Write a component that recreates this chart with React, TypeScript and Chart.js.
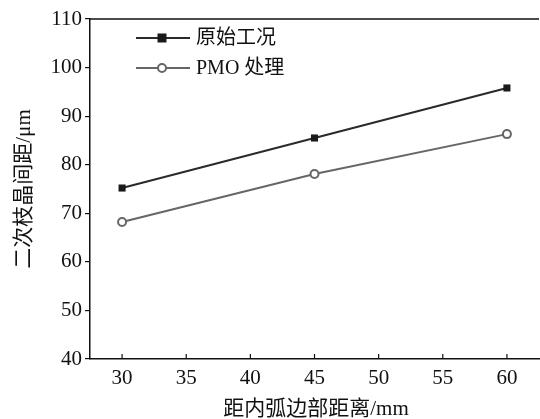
import React, { useEffect, useRef } from "react";
import { Chart, registerables } from "chart.js";

Chart.register(...registerables);

const distances = [30, 45, 60];
const original = [75.2, 85.5, 95.8];
const pmo = [68.2, 78.1, 86.3];
const xTicks = [30, 35, 40, 45, 50, 55, 60];
const seriesNames = ["原始工况", "PMO 处理"];
const xTitle = "距内弧边部距离/mm";
const yTitle = "二次枝晶间距/μm";

const FONT = "'Liberation Serif', 'Times New Roman', 'Noto Sans CJK SC', serif";

export default function App() {
  const ref = useRef<HTMLCanvasElement | null>(null);

  useEffect(() => {
    const canvas = ref.current;
    if (!canvas) return;

    const decor = {
      id: "decor",
      afterDraw(chart: any) {
        const ctx = chart.ctx;
        const a = chart.chartArea;
        const xs = chart.scales.x;
        ctx.save();
        // top border
        ctx.strokeStyle = "#111";
        ctx.lineWidth = 1.5;
        ctx.beginPath();
        ctx.moveTo(a.left, a.top);
        ctx.lineTo(a.right, a.top);
        ctx.stroke();
        // inward x ticks
        ctx.lineWidth = 1.2;
        xTicks.forEach((v) => {
          const px = xs.getPixelForValue(v);
          ctx.beginPath();
          ctx.moveTo(px, a.bottom);
          ctx.lineTo(px, a.bottom - 5);
          ctx.stroke();
        });
        // legend
        const rows = [
          { y: 38, color: "#2a2a2a", square: true },
          { y: 68, color: "#666", square: false },
        ];
        rows.forEach((r, i) => {
          ctx.strokeStyle = r.color;
          ctx.lineWidth = 2;
          ctx.beginPath();
          ctx.moveTo(136, r.y);
          ctx.lineTo(190, r.y);
          ctx.stroke();
          if (r.square) {
            ctx.fillStyle = "#1a1a1a";
            ctx.fillRect(162 - 4.5, r.y - 4.5, 9, 9);
          } else {
            ctx.fillStyle = "#fff";
            ctx.beginPath();
            ctx.arc(162, r.y, 4, 0, Math.PI * 2);
            ctx.fill();
            ctx.lineWidth = 2;
            ctx.stroke();
          }
          ctx.fillStyle = "#111";
          ctx.font = `20px ${FONT}`;
          ctx.textAlign = "left";
          ctx.textBaseline = "middle";
          ctx.fillText(seriesNames[i], 196, r.y + 1);
        });
        // axis titles
        ctx.fillStyle = "#111";
        ctx.font = `21px ${FONT}`;
        ctx.textAlign = "center";
        ctx.textBaseline = "middle";
        ctx.fillText(xTitle, 316, 409);
        ctx.save();
        ctx.translate(24, 189);
        ctx.rotate(-Math.PI / 2);
        ctx.fillText(yTitle, 0, 0);
        ctx.restore();
        ctx.restore();
      },
    };

    const chart = new Chart(canvas, {
      type: "line",
      data: {
        datasets: [
          {
            label: seriesNames[0],
            data: distances.map((x, i) => ({ x, y: original[i] })),
            borderColor: "#2a2a2a",
            borderWidth: 2,
            pointStyle: "rect",
            pointRadius: 5,
            pointBackgroundColor: "#1a1a1a",
            pointBorderColor: "#1a1a1a",
            pointBorderWidth: 0,
          },
          {
            label: seriesNames[1],
            data: distances.map((x, i) => ({ x, y: pmo[i] })),
            borderColor: "#666",
            borderWidth: 2,
            pointStyle: "circle",
            pointRadius: 4,
            pointBackgroundColor: "#fff",
            pointBorderColor: "#666",
            pointBorderWidth: 2,
          },
        ],
      },
      options: {
        animation: false,
        responsive: false,
        layout: { padding: { left: 0, top: 19, right: 0, bottom: 0 } },
        plugins: { legend: { display: false }, tooltip: { enabled: false } },
        scales: {
          x: {
            type: "linear",
            min: 27.5,
            max: 62.5,
            afterFit: (s: any) => {
              s.height = 60;
            },
            afterBuildTicks: (s: any) => {
              s.ticks = xTicks.map((v) => ({ value: v }));
            },
            ticks: {
              color: "#111",
              font: { family: FONT, size: 21 },
              padding: 7,
              maxRotation: 0,
              autoSkip: false,
            },
            grid: { display: true, drawOnChartArea: false, drawTicks: false },
            border: { display: true, color: "#111", width: 1.5 },
          },
          y: {
            type: "linear",
            min: 40,
            max: 110,
            afterFit: (s: any) => {
              s.width = 90;
            },
            ticks: {
              stepSize: 10,
              color: "#111",
              font: { family: FONT, size: 21 },
              padding: 3,
            },
            grid: {
              display: true,
              drawOnChartArea: false,
              drawTicks: true,
              tickLength: 5,
              color: "#111",
              lineWidth: 1.2,
            },
            border: { display: true, color: "#111", width: 1.5 },
          },
        },
      },
      plugins: [decor],
    });
    return () => chart.destroy();
  }, []);

  return (
    <div
      style={{
        position: "fixed",
        left: 0,
        top: 0,
        width: 540,
        height: 419,
        overflow: "hidden",
        background: "#fff",
      }}
    >
      <canvas ref={ref} width={545} height={419} style={{ display: "block" }} />
    </div>
  );
}
